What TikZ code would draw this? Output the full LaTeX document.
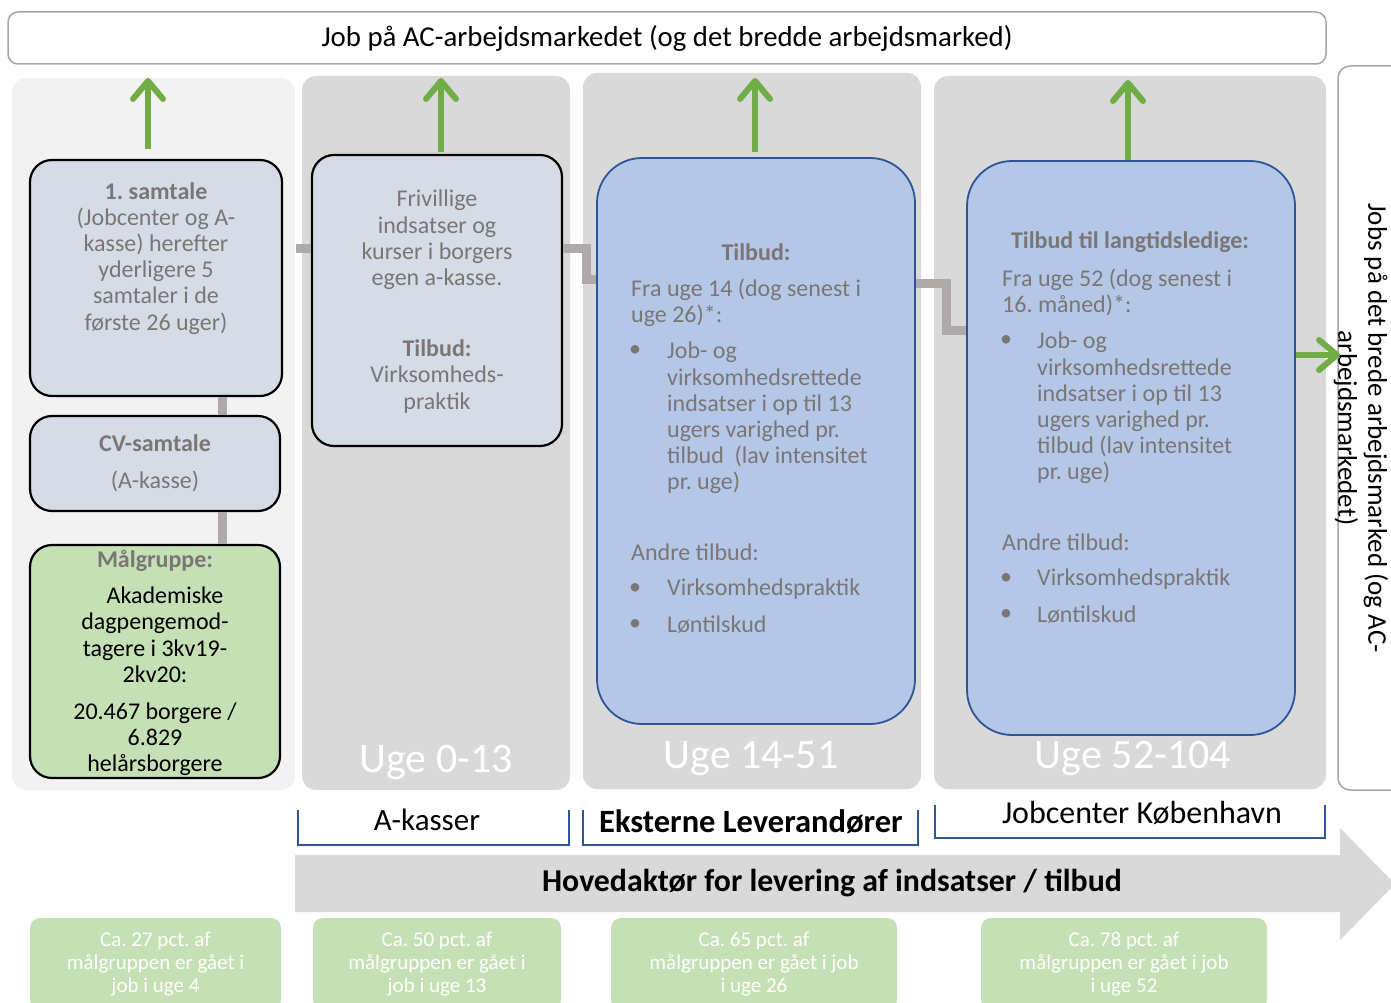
\documentclass[tikz,border=0pt]{standalone}
\usepackage{fontspec}
\setmainfont{Carlito}
\usepackage{tikz}
\usetikzlibrary{positioning, arrows.meta}

\definecolor{colgray}{HTML}{D9D9D9}
\definecolor{collight}{HTML}{F2F2F2}
\definecolor{boxgray}{HTML}{D6DCE5}
\definecolor{boxblue}{HTML}{B4C7E7}
\definecolor{darkblue}{HTML}{2F5597}
\definecolor{boxgreen}{HTML}{C5E0B4}
\definecolor{arrowgreen}{HTML}{70AD47}
\definecolor{linkgray}{HTML}{AEAAAA}
\definecolor{txtgray}{HTML}{7A7676}
\definecolor{framegray}{HTML}{A6A6A6}

\frenchspacing

\begin{document}
\begin{tikzpicture}[
    x=1pt, y=-1pt,
    phase/.style={fill=colgray, rounded corners=14pt},
    talebox/.style={rectangle, draw=black, line width=2.2pt, fill=boxgray, rounded corners=22pt, inner sep=0pt},
    groupbox/.style={talebox, fill=boxgreen},
    tilbudbox/.style={rectangle, draw=darkblue, line width=1.8pt, fill=boxblue, rounded corners=45pt, inner sep=0pt},
    resultbox/.style={rectangle, fill=boxgreen, rounded corners=10pt, text=white, align=center, minimum height=92pt, font=\fontsize{21}{23}\selectfont},
    boxtext/.style={text=txtgray, inner sep=0pt, font=\fontsize{24}{26.2}\selectfont},
    weektext/.style={text=white, font=\fontsize{42}{46}\selectfont},
    actortext/.style={font=\fontsize{31}{34}\selectfont},
    jobarrow/.style={arrowgreen, line width=6pt, -{Straight Barb[length=18pt, width=30pt, round]}},
    linkline/.style={linkgray, line width=9pt},
    bracket/.style={darkblue, line width=1.6pt}
]
\useasboundingbox (0,0) rectangle (1391,1003);

% Phase columns
\fill[collight, rounded corners=14pt] (12,78) rectangle (295,790);
\fill[phase] (302,76) rectangle (570,790);
\fill[phase] (583,73) rectangle (921,789);
\fill[phase] (934,76) rectangle (1326,789);

% Top and right frames
\node[draw=framegray, line width=1.5pt, rounded corners=10pt, fill=white, minimum width=1318pt, minimum height=52pt,
      font=\fontsize{28.8}{30}\selectfont] (jobbar) at (667,38) {Job på AC-arbejdsmarkedet (og det bredde arbejdsmarked)};
\node[draw=framegray, line width=1.5pt, rounded corners=12pt, fill=white, minimum width=90pt, minimum height=724pt] (widebox) at (1383,428) {};
\node[rotate=-90, align=center, font=\fontsize{27}{30}\selectfont] (widetext) at (1361,428) {Jobs på det brede arbejdsmarked (og AC-\\arbejdsmarkedet)};

% Left column
\node[talebox, minimum width=252pt, minimum height=236pt] (samtale) at (156,278) {};
\node[talebox, minimum width=250pt, minimum height=95pt] (cvsamtale) at (155,463.5) {};
\node[groupbox, minimum width=250pt, minimum height=233pt] (gruppe) at (155,661.5) {};

\node[boxtext, align=center, anchor=north] (samtaletext) at (156,182)
    {\textbf{1. samtale}\\(Jobcenter og A-\\kasse) herefter\\yderligere 5\\samtaler i de\\første 26 uger)};
\node[boxtext, align=center, anchor=north] (cvtext) at (155,434) {\textbf{CV-samtale}\\[11pt](A-kasse)};
\node[boxtext, text=black, align=center, anchor=north] (gruppetext) at (155,550)
    {\textcolor{txtgray}{\textbf{Målgruppe:}}\\[10pt]\hspace*{20pt}Akademiske\\dagpengemod-\\tagere i 3kv19-\\2kv20:\\[11pt]20.467 borgere /\\6.829\\helårsborgere};

% A-kasse column
\node[talebox, minimum width=250pt, minimum height=291pt] (frivillig) at (437,300.5) {};
\node[boxtext, align=center, anchor=north] (frivilligtext) at (437,190)
    {Frivillige\\indsatser og\\kurser i borgers\\egen a-kasse.\\[45pt]\textbf{Tilbud:}\\Virksomheds-\\praktik};

% Eksterne column
\node[tilbudbox, minimum width=318pt, minimum height=566pt] (tilbud) at (756,441) {};
\node[boxtext, font=\bfseries\fontsize{24}{26.2}\selectfont] (tilbudhead) at (756,252) {Tilbud:};
\node[boxtext, align=left, anchor=north west] (tilbudfra) at (631,279) {Fra uge 14 (dog senest i\\uge 26)*:};
\node[boxtext] at (635,351) {•};
\node[boxtext, align=left, anchor=north west] (tilbudjob) at (667,342)
    {Job- og\\virksomhedsrettede\\indsatser i op til 13\\ugers varighed pr.\\tilbud~~(lav intensitet\\pr. uge)};
\node[boxtext, anchor=west] (tilbudandre) at (631,552) {Andre tilbud:};
\node[boxtext] at (635,589) {•};
\node[boxtext, anchor=west] at (667,589) {Virksomhedspraktik};
\node[boxtext] at (635,625) {•};
\node[boxtext, anchor=west] at (667,625) {Løntilskud};

% Jobcenter column
\node[tilbudbox, minimum width=328pt, minimum height=574pt] (langtid) at (1131,448) {};
\node[boxtext, font=\bfseries\fontsize{24}{26.2}\selectfont] (langtidhead) at (1130,242) {Tilbud til langtidsledige:};
\node[boxtext, align=left, anchor=north west] (langtidfra) at (1002,269) {Fra uge 52 (dog senest i\\16. måned)*:};
\node[boxtext] at (1006,341) {•};
\node[boxtext, align=left, anchor=north west] (langtidjob) at (1037,332)
    {Job- og\\virksomhedsrettede\\indsatser i op til 13\\ugers varighed pr.\\tilbud (lav intensitet\\pr. uge)};
\node[boxtext, anchor=west] (langtidandre) at (1002,542) {Andre tilbud:};
\node[boxtext] at (1006,579) {•};
\node[boxtext, anchor=west] at (1037,579) {Virksomhedspraktik};
\node[boxtext] at (1006,615) {•};
\node[boxtext, anchor=west] at (1037,615) {Løntilskud};

% Week labels
\node[weektext] (uge0) at (436,762) {Uge 0-13};
\node[weektext] (uge14) at (751,759) {Uge 14-51};
\node[weektext] (uge52) at (1133,758) {Uge 52-104};

% Links between the steps
\draw[linkline] ([xshift=66pt]samtale.south) -- ([xshift=67pt]cvsamtale.north);
\draw[linkline] ([xshift=67pt]cvsamtale.south) -- ([xshift=67pt]gruppe.north);
\draw[linkline, shorten <=13pt] ([yshift=30pt]samtale.east) -- ([yshift=52.5pt]frivillig.west);
\draw[linkline] ([yshift=52.5pt]frivillig.east) -- ++(23,0) |- ([yshift=162pt]tilbud.west);
\draw[linkline] ([yshift=158pt]tilbud.east) -- ++(31,0) |- ([yshift=118pt]langtid.west);

% Arrows into jobs
\coordinate (goal0) at (148,78);
\coordinate (goal1) at (441,78);
\coordinate (goal2) at (755,78);
\coordinate (goal3) at (1128,80);
\coordinate (goalwide) at (1340,355);
\draw[jobarrow] ([xshift=-8pt,yshift=10pt]samtale.north) -- (goal0);
\draw[jobarrow] ([xshift=4pt,yshift=2pt]frivillig.north) -- (goal1);
\draw[jobarrow] ([xshift=-1pt,yshift=5pt]tilbud.north) -- (goal2);
\draw[jobarrow] ([xshift=-3pt]langtid.north) -- (goal3);
\draw[jobarrow] ([yshift=93pt]langtid.east) -- (goalwide);

% Actors
\draw[bracket] (298,810) |- (569,845) -- (569,810);
\draw[bracket] (583,810) |- (918,845) -- (918,810);
\draw[bracket] (935,805) |- (1325,838) -- (1325,805);
\node[actortext] (akasse) at (427,820) {A-kasser};
\node[actortext, font=\bfseries\fontsize{32.5}{35}\selectfont] (eksterne) at (751,822) {Eksterne Leverandører};
\node[actortext, font=\fontsize{32}{35}\selectfont] (jobcenter) at (1142,813) {Jobcenter København};

% Main actor arrow
\fill[colgray] (295,855) -- (1340,855) -- (1340,828) -- (1395,884) -- (1340,940) -- (1340,912) -- (295,912) -- cycle;
\node[font=\bfseries\fontsize{31.8}{34}\selectfont] (hovedaktor) at (832,883) {Hovedaktør for levering af indsatser / tilbud};

% Share in job
\node[resultbox, minimum width=251pt] (andel4) at (155.5,964) {Ca. 27 pct. af\\målgruppen er gået i\\job i uge 4};
\node[resultbox, minimum width=248pt] (andel13) at (437,964) {Ca. 50 pct. af\\målgruppen er gået i\\job i uge 13};
\node[resultbox, minimum width=286pt] (andel26) at (754,964) {Ca. 65 pct. af\\målgruppen er gået i job\\i uge 26};
\node[resultbox, minimum width=286pt] (andel52) at (1124,964) {Ca. 78 pct. af\\målgruppen er gået i job\\i uge 52};

\end{tikzpicture}
\end{document}
